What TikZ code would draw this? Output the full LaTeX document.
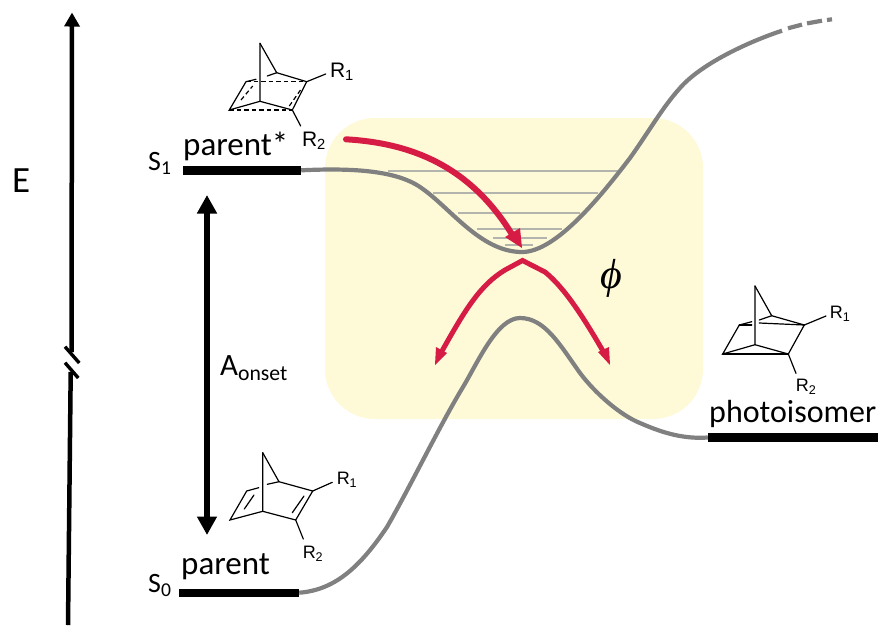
\documentclass[tikz,border=0pt]{standalone}
\usepackage{fontspec}
\setmainfont{Carlito}
\newfontfamily\rfont{Liberation Sans}
\newfontfamily\phifont{Liberation Serif}
\usetikzlibrary{arrows.meta}
\definecolor{panelyellow}{HTML}{FEFAD8}
\definecolor{curvegrey}{HTML}{808080}
\definecolor{levelgrey}{HTML}{B4B4AE}
\definecolor{pathred}{HTML}{D61C45}
\tikzset{
  levelbar/.style={fill=black,draw=none,inner sep=0pt,minimum height=8.4pt},
  label/.style={inner sep=0pt,anchor=base west,font=\fontsize{33}{33}\selectfont},
  statelabel/.style={inner sep=0pt,anchor=base west,font=\fontsize{28}{28}\selectfont},
  rlabel/.style={inner sep=0pt,font=\rfont\fontsize{21}{21}\selectfont},
  rsmall/.style={inner sep=0pt,font=\rfont\fontsize{18}{18}\selectfont},
  bond/.style={line width=1.2pt,line cap=round},
  dbond/.style={line width=1.2pt,dash pattern=on 4.5pt off 3pt},
  pes/.style={draw=curvegrey,line width=4.2pt},
  vib/.style={draw=levelgrey,line width=1.7pt},
  redpath/.style={draw=pathred,line width=5pt},
  axisline/.style={line width=4.5pt},
}
\begin{document}
\begin{tikzpicture}[x=1pt,y=-1pt]
\useasboundingbox (0,0) rectangle (881,625);
\fill[white] (0,0) rectangle (881,625);
\fill[panelyellow,rounded corners=50pt] (325,118) rectangle (703,419);

% axis
\coordinate (axtop) at (72,12.5);
\coordinate (axup) at (71.5,352);
\coordinate (axlow) at (70.7,372);
\coordinate (axbot) at (68,625);
\draw[axisline,-{Triangle[length=14pt,width=15pt]}] (axup) -- (axtop);
\draw[axisline] (axlow) -- (axbot);
\draw[line width=3.4pt] (65,346.7) -- (79.3,363);
\draw[line width=3.4pt] (65,362.7) -- (78.3,378);
\node[inner sep=0pt,anchor=base west,font=\fontsize{37}{37}\selectfont] (elabel) at (12,192) {E};

% levels
\node[levelbar,minimum width=118pt] (s1bar) at (242,170.3) {};
\node[levelbar,minimum width=120pt] (s0bar) at (239,592.7) {};
\node[levelbar,minimum width=170pt] (pbar) at (793,437.5) {};

% vibrational levels
\draw[vib] (388,171.3) -- (618,171.3);
\draw[vib] (433,192.7) -- (598,192.7);
\draw[vib] (458,212.7) -- (580,212.7);
\draw[vib] (477,228.7) -- (562,228.7);
\draw[vib] (493,237.7) -- (547,237.7);
\draw[vib] (505,245) -- (533,245);

% potential curves
\coordinate (topend) at (782,30.7);
\draw[pes] (s1bar.east) .. controls (350,168) and (395,170) .. (420,187)
  .. controls (450,207) and (480,252) .. (522,252)
  .. controls (555,252) and (598,200) .. (630,158)
  .. controls (650,130) and (662,108) .. (680,88)
  .. controls (700,65) and (745,43) .. (topend);
\draw[pes] (788,28.3) -- (802,24.6);
\draw[pes] (807,23.4) -- (822,20.7);
\draw[pes] (827,20) -- (832,19.3);
\draw[pes] (s0bar.east) .. controls (335,590) and (360,567) .. (387,527)
  .. controls (410,487) and (440,425) .. (463,387)
  .. controls (478,362) and (497,318) .. (520,318)
  .. controls (545,318) and (560,345) .. (580,373)
  .. controls (595,393) and (620,415) .. (640,423)
  .. controls (665,434) and (685,439) .. (pbar.west);

% excitation arrow
\coordinate (aup) at (207,195);
\coordinate (adown) at (207,535);
\draw[line width=6.5pt,{Triangle[length=18.5pt,width=19pt]}-{Triangle[length=18.5pt,width=19pt]}] (aup) -- (adown);
\node[label,font=\fontsize{31}{31}\selectfont] (aonset) at (220,375) {A\textsubscript{onset}};

% red arrows
\coordinate (redstart) at (346,139.3);
\coordinate (redtip) at (522,248);
\coordinate (redsplit) at (522.5,260.5);
\coordinate (leftip) at (435,365);
\coordinate (rightip) at (610,365);
\draw[redpath,line width=6pt,line cap=round] (redstart) .. controls (410,143) and (470,165) .. (513,236);
\fill[pathred] (redtip) -- (505,237) -- (520,228) -- cycle;
\draw[redpath] (442,351) .. controls (465,310) and (480,285) .. (505,270) -- (redsplit) -- (545,272) .. controls (565,288) and (585,320) .. (603,351);
\fill[pathred] (leftip) -- (436,347) -- (447,353) -- cycle;
\fill[pathred] (rightip) -- (598,352) -- (609,347) -- cycle;
\node[inner sep=0pt,font=\phifont\itshape\fontsize{42}{42}\selectfont] (phi) at (611,278) {ϕ};

% labels
\node[label] (parentstar) at (183,155) {parent*};
\node[label] (parent) at (181,574) {parent};
\node[label,font=\fontsize{32}{32}\selectfont] (photo) at (709,422) {photoisomer};
\node[statelabel] (s1) at (148,170) {S\textsubscript{1}};
\node[statelabel] (s0) at (148,592) {S\textsubscript{0}};

% excited molecule
\draw[bond] (260,43.3) -- (260,101.3) -- (229.3,110) -- (246,81.7) -- (256,79.3);
\draw[bond] (260,43.3) -- (276.7,72.7) -- (306.7,81.7) -- (292.3,110) -- (260,101.3);
\draw[bond] (267.3,76) -- (276.7,72.7);
\draw[bond] (306.7,81.7) -- (325.7,74);
\draw[bond] (292.3,110) -- (300.7,126);
\draw[dbond] (246,81.7) -- (306.7,81.7);
\draw[dbond] (229.3,110) -- (292.3,110);
\draw[dbond] (241,100) -- (252.7,86);
\draw[dbond] (289.3,106) -- (301,89.3);
\node[rlabel] (r1a) at (342,72) {R\textsubscript{1}};
\node[rlabel] (r2a) at (314,141) {R\textsubscript{2}};

% parent molecule
\draw[bond] (262.7,452.7) -- (262.7,511.3) -- (230,520) -- (246.7,491) -- (258.7,487.7);
\draw[bond] (262.7,452.7) -- (279,481.7) -- (312.7,491) -- (295.7,520) -- (262.7,511.3);
\draw[bond] (267.3,484.3) -- (279,481.7);
\draw[bond] (312.7,491) -- (332.3,482.3);
\draw[bond] (295.7,520) -- (303.3,539);
\draw[bond] (244.3,509) -- (254,495);
\draw[bond] (292.3,512.7) -- (304,496);
\node[rsmall] (r1b) at (347,480) {R\textsubscript{1}};
\node[rsmall] (r2b) at (313,554) {R\textsubscript{2}};

% photoisomer molecule
\draw[bond] (755,286) -- (755,344.7) -- (722.7,354) -- (739.3,325) -- (751.7,321.7);
\draw[bond] (755,286) -- (771.7,315.7) -- (804.3,325) -- (788.3,354) -- (755,344.7);
\draw[bond] (759.3,320) -- (771.7,315.7);
\draw[bond] (739.3,325) -- (751.7,325);
\draw[bond] (759.3,323) -- (804.3,325);
\draw[bond] (722.7,354) -- (788.3,354);
\draw[bond] (804.3,325) -- (826,316);
\draw[bond] (788.3,354) -- (796,373.3);
\node[rsmall] (r1c) at (840,314) {R\textsubscript{1}};
\node[rsmall] (r2c) at (806,387) {R\textsubscript{2}};
\end{tikzpicture}
\end{document}
